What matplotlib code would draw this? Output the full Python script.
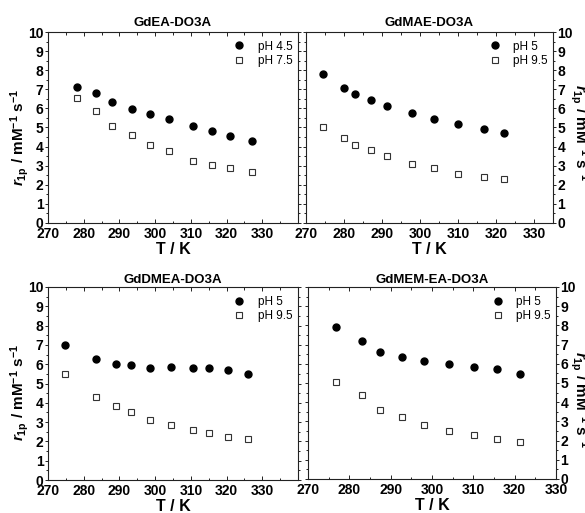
import matplotlib
matplotlib.use('Agg')
import matplotlib.pyplot as plt
from matplotlib.ticker import MultipleLocator

plt.rcParams['font.family'] = ['Liberation Sans', 'DejaVu Sans']
plt.rcParams['font.weight'] = 'bold'
plt.rcParams['xtick.labelsize'] = 10
plt.rcParams['ytick.labelsize'] = 10
plt.rcParams['mathtext.fontset'] = 'custom'
plt.rcParams['mathtext.rm'] = 'Liberation Sans:bold'
plt.rcParams['mathtext.it'] = 'Liberation Sans:italic:bold'
plt.rcParams['mathtext.bf'] = 'Liberation Sans:bold'

# GdEA-DO3A
ea_T_low = [278, 283.5, 288, 293.5, 298.5, 304, 310.5, 316, 321, 327]
ea_r_low = [7.14, 6.82, 6.32, 5.95, 5.71, 5.45, 5.10, 4.83, 4.57, 4.28]
ea_T_high = [278, 283.5, 288, 293.5, 298.5, 304, 310.5, 316, 321, 327]
ea_r_high = [6.56, 5.85, 5.10, 4.59, 4.07, 3.77, 3.23, 3.05, 2.86, 2.69]

# GdMAE-DO3A
mae_T_low = [274.5, 280, 283, 287, 291.2, 298, 303.6, 310.1, 316.9, 322.1]
mae_r_low = [7.79, 7.05, 6.74, 6.44, 6.13, 5.74, 5.46, 5.18, 4.90, 4.71]
mae_T_high = [274.5, 280, 283, 287, 291.2, 298, 303.6, 310.1, 316.9, 322.1]
mae_r_high = [5.04, 4.43, 4.08, 3.84, 3.51, 3.11, 2.88, 2.57, 2.42, 2.30]

# GdDMEA-DO3A
dmea_T_low = [274.7, 283.4, 289, 293.2, 298.5, 304.4, 310.6, 315.1, 320.4, 325.9]
dmea_r_low = [6.99, 6.27, 5.99, 5.97, 5.79, 5.87, 5.82, 5.82, 5.70, 5.51]
dmea_T_high = [274.7, 283.4, 289, 293.2, 298.5, 304.4, 310.6, 315.1, 320.4, 325.9]
dmea_r_high = [5.49, 4.32, 3.85, 3.50, 3.09, 2.83, 2.57, 2.42, 2.21, 2.12]

# GdMEM-EA-DO3A
mem_T_low = [276.7, 283, 287.4, 292.7, 298.1, 304.2, 310.1, 315.8, 321.4]
mem_r_low = [7.93, 7.19, 6.61, 6.34, 6.16, 5.99, 5.85, 5.71, 5.45]
mem_T_high = [276.7, 283, 287.4, 292.7, 298.1, 304.2, 310.1, 315.8, 321.4]
mem_r_high = [5.05, 4.38, 3.59, 3.21, 2.83, 2.52, 2.27, 2.10, 1.91]

titles = ['GdEA-DO3A', 'GdMAE-DO3A', 'GdDMEA-DO3A', 'GdMEM-EA-DO3A']
labels_low = ['pH 4.5', 'pH 5', 'pH 5', 'pH 5']
labels_high = ['pH 7.5', 'pH 9.5', 'pH 9.5', 'pH 9.5']
x_max = [340, 335, 340, 330]

ylabel = r'$\mathit{r}_{\mathrm{1p}}$ / mM$^{\mathrm{-1}}$ s$^{\mathrm{-1}}$'

fig = plt.figure(figsize=(5.85, 5.13), dpi=100)

boxes = [
    [48/585, 1 - 223/513, 250/585, 191/513],
    [306/585, 1 - 223/513, 247/585, 191/513],
    [48/585, 1 - 480/513, 250/585, 193/513],
    [308/585, 1 - 479/513, 248/585, 192/513],
]

data = [
    (ea_T_low, ea_r_low, ea_T_high, ea_r_high),
    (mae_T_low, mae_r_low, mae_T_high, mae_r_high),
    (dmea_T_low, dmea_r_low, dmea_T_high, dmea_r_high),
    (mem_T_low, mem_r_low, mem_T_high, mem_r_high),
]

for i in range(4):
    ax = fig.add_axes(boxes[i])
    T1, r1, T2, r2 = data[i]
    ax.plot(T1, r1, 'o', color='black', markersize=5, label=labels_low[i])
    ax.plot(T2, r2, 's', markerfacecolor='white', markeredgecolor='#333333',
            markeredgewidth=0.8, markersize=4.6, label=labels_high[i])

    ax.set_xlim(270, x_max[i])
    ax.set_ylim(0, 10)
    ax.set_xticks(range(270, 331, 10))
    ax.xaxis.set_minor_locator(MultipleLocator(5))
    ax.yaxis.set_major_locator(MultipleLocator(1))
    ax.yaxis.set_minor_locator(MultipleLocator(0.5))

    for s in ax.spines.values():
        s.set_linewidth(0.8)
        s.set_color('#222222')

    ax.tick_params(axis='x', which='both', direction='in', top=True, bottom=True,
                   width=0.7, color='#222222', pad=3)
    ax.tick_params(axis='x', which='major', length=3)
    ax.tick_params(axis='x', which='minor', length=1.8)
    ax.tick_params(axis='y', which='both', direction='out', left=True, right=True,
                   width=0.7, color='#222222', pad=0.8)
    ax.tick_params(axis='y', which='major', length=2.5)
    ax.tick_params(axis='y', which='minor', length=1.5)

    if i % 2 == 1:
        ax.tick_params(axis='y', labelleft=False, labelright=True)

    ax.set_title(titles[i], fontsize=9.5, fontweight='bold', pad=4 if i < 2 else 3)
    ax.set_xlabel('T / K', fontsize=11.5, fontweight='bold', labelpad=0.5)

    ax.legend(loc='upper right', bbox_to_anchor=(0.98, 0.955), frameon=False,
              prop={'size': 8.5, 'weight': 'normal'}, numpoints=1,
              handlelength=1.0, handletextpad=1.1,
              labelspacing=0.2, borderpad=0, borderaxespad=0)

# axis titles on the outer sides
fig.text(8/585, 1 - 137/513, ylabel, rotation=90, ha='left', va='center',
         fontsize=11, fontweight='bold')
fig.text(8/585, 1 - 392/513, ylabel, rotation=90, ha='left', va='center',
         fontsize=11, fontweight='bold')
fig.text(568/585, 1 - 133/513, ylabel, rotation=-90, ha='left', va='center',
         fontsize=11, fontweight='bold')
fig.text(568/585, 1 - 400/513, ylabel, rotation=-90, ha='left', va='center',
         fontsize=11, fontweight='bold')

fig.savefig('out.png', dpi=100)
